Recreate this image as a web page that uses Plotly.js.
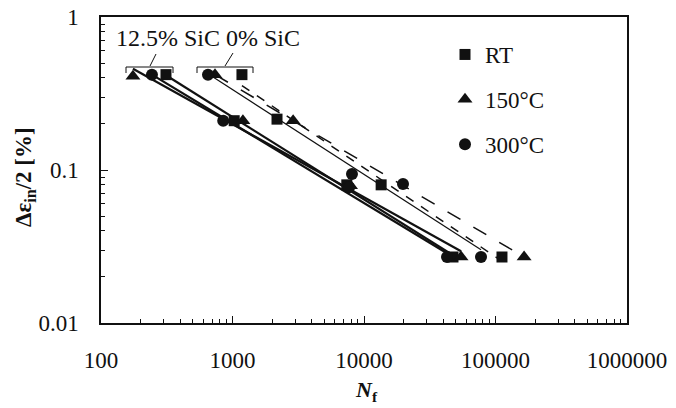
<!DOCTYPE html>
<html>
<head>
<meta charset="utf-8">
<script src="https://cdn.plot.ly/plotly-3.0.1.min.js"></script>
<style>html,body{margin:0;padding:0;background:#fff;}#chart{width:676px;height:408px;}</style>
</head>
<body>
<div id="chart"></div>
<script>
// ---- data ----
const seriesNames = ["RT", "150°C", "300°C"];
// 12.5% SiC (solid fit lines)
const nf125_RT  = [312, 1030, 7400, 47500];
const eps125_RT = [0.42, 0.21, 0.080, 0.027];
const nf125_150  = [175, 1200, 7900, 54700];
const eps125_150 = [0.41, 0.21, 0.079, 0.027];
const nf125_300  = [244, 850, 7700, 42800];
const eps125_300 = [0.42, 0.21, 0.077, 0.027];
// 0% SiC (dashed / thin fit lines)
const nf0_RT  = [1180, 2180, 13500, 112000];
const eps0_RT = [0.42, 0.215, 0.080, 0.027];
const nf0_150  = [736, 2890, 165000];
const eps0_150 = [0.42, 0.21, 0.027];
const nf0_300  = [651, 8100, 19800, 77600];
const eps0_300 = [0.42, 0.094, 0.081, 0.027];

const xTickVals = [100, 1000, 10000, 100000, 1000000];
const xTickText = ["100", "1000", "10000", "100000", "1000000"];
const yTickVals = [0.01, 0.1, 1];
const yTickText = ["0.01", "0.1", "1"];
const groupLabel = "12.5% SiC 0% SiC";

// ---- helpers ----
const W = 676, H = 408;
const M = {l: 101, r: 49, t: 17, b: 85};
const pw = W - M.l - M.r, ph = H - M.t - M.b;
const px = x => (x - M.l) / pw;
const py = y => 1 - (y - M.t) / ph;

function fitLine(xs, ys) {
  const lx = xs.map(Math.log10), ly = ys.map(Math.log10);
  const n = lx.length;
  const mx = lx.reduce((a, b) => a + b, 0) / n, my = ly.reduce((a, b) => a + b, 0) / n;
  let sxy = 0, sxx = 0;
  for (let i = 0; i < n; i++) { sxy += (lx[i] - mx) * (ly[i] - my); sxx += (lx[i] - mx) ** 2; }
  const b = sxy / sxx, a = my - b * mx;
  const x0 = Math.min(...xs), x1 = Math.max(...xs);
  return {x: [x0, x1], y: [Math.pow(10, a + b * Math.log10(x0)), Math.pow(10, a + b * Math.log10(x1))]};
}

const ink = "#111";
const symbols = ["square", "triangle-up", "circle"];
const sizes = [11, 13, 12];
const groups125 = [[nf125_RT, eps125_RT], [nf125_150, eps125_150], [nf125_300, eps125_300]];
const groups0 = [[nf0_RT, eps0_RT], [nf0_150, eps0_150], [nf0_300, eps0_300]];
const dash0 = ["dash", "longdash", "solid"];
const width0 = [1.5, 1.5, 1.2];

const traces = [];
groups125.forEach((g, i) => {
  const f = fitLine(g[0], g[1]);
  traces.push({x: f.x, y: f.y, mode: "lines", line: {color: ink, width: 2.2}, showlegend: false, hoverinfo: "skip"});
});
groups0.forEach((g, i) => {
  const f = fitLine(g[0], g[1]);
  traces.push({x: f.x, y: f.y, mode: "lines", line: {color: ink, width: width0[i], dash: dash0[i]}, showlegend: false, hoverinfo: "skip"});
});
groups125.forEach((g, i) => {
  traces.push({x: g[0], y: g[1], mode: "markers", name: seriesNames[i], legendgroup: "g" + i,
    marker: {symbol: symbols[i], size: sizes[i], color: ink}, showlegend: true});
});
groups0.forEach((g, i) => {
  traces.push({x: g[0], y: g[1], mode: "markers", name: seriesNames[i], legendgroup: "g" + i,
    marker: {symbol: symbols[i], size: sizes[i], color: ink}, showlegend: false});
});

const serif = "Liberation Serif, Times New Roman, serif";

const bracketLine = {color: ink, width: 1};
const shapes = [
  // left bracket (12.5% SiC)
  {type: "line", xref: "paper", yref: "paper", x0: px(126), x1: px(173), y0: py(67), y1: py(67), line: bracketLine},
  {type: "line", xref: "paper", yref: "paper", x0: px(126), x1: px(126), y0: py(67), y1: py(73), line: bracketLine},
  {type: "line", xref: "paper", yref: "paper", x0: px(173), x1: px(173), y0: py(67), y1: py(73), line: bracketLine},
  {type: "line", xref: "paper", yref: "paper", x0: px(150), x1: px(156), y0: py(66), y1: py(54), line: bracketLine},
  // right bracket (0% SiC)
  {type: "line", xref: "paper", yref: "paper", x0: px(197), x1: px(253), y0: py(67), y1: py(67), line: bracketLine},
  {type: "line", xref: "paper", yref: "paper", x0: px(197), x1: px(197), y0: py(67), y1: py(73), line: bracketLine},
  {type: "line", xref: "paper", yref: "paper", x0: px(253), x1: px(253), y0: py(67), y1: py(73), line: bracketLine},
  {type: "line", xref: "paper", yref: "paper", x0: px(225), x1: px(233), y0: py(66), y1: py(53), line: bracketLine}
];

const annotations = [
  {text: groupLabel, xref: "paper", yref: "paper", x: px(208), y: py(38), xanchor: "center", yanchor: "middle",
   showarrow: false, font: {family: serif, size: 24, color: ink}},
  {text: "<b>Δε<sub>in</sub>/2 [%]</b>", xref: "paper", yref: "paper", x: px(25), y: py(177), textangle: -90,
   xanchor: "center", yanchor: "middle", showarrow: false, font: {family: serif, size: 23, color: ink}},
  {text: "<b><i>N</i><sub>f</sub></b>", xref: "paper", yref: "paper", x: px(366), y: py(391),
   xanchor: "center", yanchor: "middle", showarrow: false, font: {family: serif, size: 22, color: ink}}
];

const layout = {
  width: W, height: H,
  margin: M,
  paper_bgcolor: "#fff", plot_bgcolor: "#fff",
  showlegend: true,
  legend: {x: px(445), y: py(33), xanchor: "left", yanchor: "top", bgcolor: "rgba(0,0,0,0)",
    font: {family: serif, size: 23, color: ink}, tracegroupgap: 12, traceorder: "grouped", itemwidth: 30},
  xaxis: {type: "log", range: [2, 6], tickvals: xTickVals, ticktext: xTickText,
    ticks: "inside", ticklen: 7, tickcolor: ink, showgrid: false, zeroline: false,
    showline: true, linecolor: ink, linewidth: 1.6, mirror: true, ticklabelstandoff: 16,
    tickfont: {family: serif, size: 23, color: ink},
    minor: {dtick: "D1", ticks: "inside", ticklen: 4, tickcolor: ink, showgrid: false}},
  yaxis: {type: "log", range: [-2, 0], tickvals: yTickVals, ticktext: yTickText,
    ticks: "inside", ticklen: 7, tickcolor: ink, showgrid: false, zeroline: false,
    showline: true, linecolor: ink, linewidth: 1.6, mirror: true, ticklabelstandoff: 16,
    tickfont: {family: serif, size: 23, color: ink},
    minor: {dtick: "D1", ticks: "inside", ticklen: 4, tickcolor: ink, showgrid: false}},
  shapes: shapes,
  annotations: annotations
};

Plotly.newPlot("chart", traces, layout, {staticPlot: true, displayModeBar: false});
</script>
</body>
</html>
